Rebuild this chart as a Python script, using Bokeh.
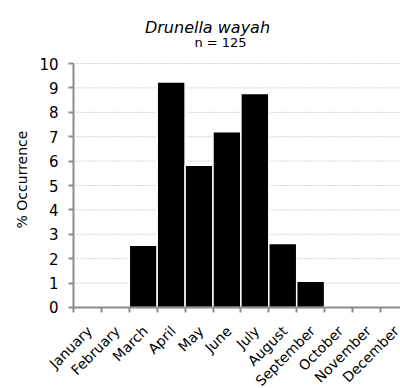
from math import pi

from bokeh.core.properties import value
from bokeh.embed import file_html
from bokeh.models import FixedTicker, Label, Range1d
from bokeh.plotting import figure
from bokeh.resources import INLINE

# Monthly occurrence of Drunella wayah (percent)
months = ["January", "February", "March", "April", "May", "June",
          "July", "August", "September", "October", "November", "December"]
occurrence = [0, 0, 2.55, 9.24, 5.83, 7.2, 8.77, 2.62, 1.08, 0, 0, 0]
y_ticks = [0, 1, 2, 3, 4, 5, 6, 7, 8, 9, 10]
species = "Drunella wayah"
sample_size = 125

FONT = "DejaVu Sans"
AXIS_GREY = "#8c8c8c"

centers = [i + 0.5 for i in range(len(months))]
bounds = [float(i) for i in range(len(months) + 1)]

# The frame covers the whole canvas: both axes are pinned at 0 and the
# headings / axis title are placed inside the frame in screen units.
p = figure(
    width=400, height=388,
    x_range=Range1d(-2.6165, 11.7204), y_range=Range1d(-3.3197, 12.582),
    output_backend="svg", toolbar_location=None,
    min_border_left=0, min_border_right=0,
    min_border_top=0, min_border_bottom=0,
    outline_line_color=None,
)

# dotted horizontal grid spanning the twelve months only, behind the bars
p.segment(x0=0, x1=len(months), y0=y_ticks[1:], y1=y_ticks[1:],
          line_color="#aaaaaa", line_dash="1 2", line_width=1,
          level="underlay")

p.vbar(x=centers, top=occurrence, width=1.0, bottom=0,
       fill_color="black", line_color="white", line_width=1.5)

p.xgrid.grid_line_color = None
p.ygrid.grid_line_color = None

# x axis: tick marks on the month boundaries only
p.xaxis.fixed_location = 0
p.xaxis.bounds = (0, len(months))
p.xaxis.ticker = FixedTicker(ticks=[], minor_ticks=bounds)
p.xaxis.major_tick_out = 0
p.xaxis.major_tick_in = 0
p.xaxis.minor_tick_out = 5
p.xaxis.minor_tick_in = 0
p.xaxis.minor_tick_line_color = AXIS_GREY
p.xaxis.minor_tick_line_width = 2

# slanted month names hanging from each bar's centre
p.text(x=centers, y=[0] * len(months), text=months, angle=pi / 4,
       text_align="right", text_baseline="middle",
       x_offset=2, y_offset=21,
       text_font=value(FONT), text_font_size="14px", text_color="black")

# y axis pinned to the first month boundary
p.yaxis.fixed_location = 0
p.yaxis.bounds = (0, 10)
p.yaxis.ticker = FixedTicker(ticks=y_ticks)
p.yaxis.minor_tick_line_color = None
p.yaxis.major_tick_out = 5
p.yaxis.major_tick_in = 0
p.yaxis.major_tick_line_color = AXIS_GREY
p.yaxis.major_tick_line_width = 2
p.yaxis.major_label_text_font = FONT
p.yaxis.major_label_text_font_size = "15px"
p.yaxis.major_label_text_color = "black"
p.yaxis.major_label_standoff = 10

for ax in (p.xaxis, p.yaxis):
    ax.axis_line_color = AXIS_GREY
    ax.axis_line_width = 2

# texts in screen units, measured from the frame's lower left corner
p.add_layout(Label(x=21, y=209, x_units="screen", y_units="screen",
                   text="% Occurrence", angle=pi / 2, text_font=FONT,
                   text_font_size="14px", text_align="center",
                   text_baseline="middle", text_color="black"))
p.add_layout(Label(x=207, y=361, x_units="screen", y_units="screen",
                   text=species, text_font=FONT, text_font_size="16px",
                   text_font_style="italic", text_align="center",
                   text_baseline="alphabetic", text_color="black"))
p.add_layout(Label(x=220, y=346, x_units="screen", y_units="screen",
                   text=f"n = {sample_size}", text_font=FONT,
                   text_font_size="13px", text_align="center",
                   text_baseline="alphabetic", text_color="black"))

open("out.html", "w").write(file_html(p, INLINE))
